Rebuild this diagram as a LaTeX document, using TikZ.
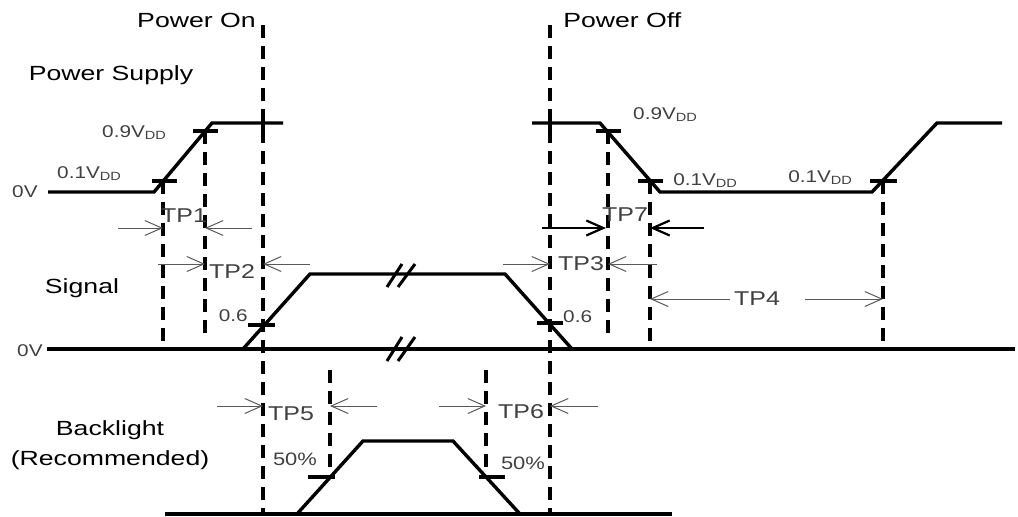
\documentclass[tikz,border=0pt]{standalone}
\usepackage{fontspec}
\setmainfont{Liberation Sans}
\usetikzlibrary{arrows.meta}
\newcommand{\vdd}[1]{#1V\textsubscript{DD}}

\begin{document}
\begin{tikzpicture}[x=1pt,y=-1pt,
	wave/.style={line width=3.4pt, line join=miter},
	guide/.style={line width=3.4pt, dash pattern=on 13pt off 8pt},
	tpgap/.style={line width=1pt, draw=black!65, -{Straight Barb[length=17pt,width=15pt]}},
	tpgapbold/.style={line width=2.2pt, draw=black, -{Straight Barb[length=17pt,width=15pt]}},
	title/.style={font=\fontsize{20.5}{24}\selectfont, xscale=1.3, inner sep=0pt},
	tplabel/.style={text=black!75, font=\fontsize{20}{23}\selectfont, xscale=1.25, inner sep=0pt},
	volt/.style={text=black!75, font=\fontsize{17}{20}\selectfont, xscale=1.22, inner sep=0pt}]
	\useasboundingbox (0,0) rectangle (1018,517);
	% titles
	\node[title, anchor=east] (pon) at (256,20) {Power On};
	\node[title, anchor=west] (poff) at (563,20) {Power Off};
	\node[title] (supply) at (111,75) {Power Supply};
	\node[title] (signal) at (82,288) {Signal};
	\node[title] (bl) at (110,430) {Backlight};
	\node[title] (blrec) at (110,460) {(Recommended)};
	% power supply
	\draw[wave] (48,192) -- (154,192) -- (212,123) -- (283,123);
	\draw[wave] (532,123) -- (600,123) -- (660,192) -- (872,192) -- (937,123) -- (1002,123);
	\draw[wave] (152,181) -- (177,181);
	\draw[wave] (193,131) -- (218,131);
	\draw[wave] (263,110) -- (263,136);
	\draw[wave] (550,110) -- (550,136);
	\draw[wave] (596,131) -- (621,131);
	\draw[wave] (638,181) -- (663,181);
	\draw[wave] (870,181) -- (897,181);
	\node[volt, anchor=west] (zeroa) at (12,192) {0V};
	\node[volt, anchor=base west] (lowa) at (57,178) {\vdd{0.1}};
	\node[volt, anchor=base west] (higha) at (102,137) {\vdd{0.9}};
	\node[volt, anchor=base west] (highb) at (633,119) {\vdd{0.9}};
	\node[volt, anchor=base west] (lowb) at (673,185) {\vdd{0.1}};
	\node[volt, anchor=base west] (lowc) at (788,182) {\vdd{0.1}};
	% signal
	\draw[wave] (47,349) -- (1015,349);
	\draw[wave] (243,349) -- (310,274) -- (505,274) -- (572,349);
	\draw[line width=3pt] (387,287) -- (402,264) (398,287) -- (415,264);
	\draw[line width=3pt] (387,361) -- (402,337) (398,361) -- (415,337);
	\draw[wave] (248,325) -- (275,325);
	\draw[wave] (537,323) -- (563,323);
	\node[volt, anchor=west] (zerob) at (17,351) {0V};
	\node[volt, anchor=east] (sixa) at (248,316) {0.6};
	\node[volt, anchor=west] (sixb) at (563,317) {0.6};
	% backlight
	\draw[wave] (165,514) -- (672,514);
	\draw[wave] (297,514) -- (363,441) -- (453,441) -- (520,514);
	\draw[wave] (308,477) -- (335,477);
	\draw[wave] (479,477) -- (505,477);
	\node[volt, font=\fontsize{18}{21}\selectfont] (pcta) at (295,459) {50\%};
	\node[volt, font=\fontsize{18}{21}\selectfont] (pctb) at (523,463) {50\%};
	% dashed guides
	\draw[guide] (263,25) -- (263,514);
	\draw[guide] (550,25) -- (550,514);
	\draw[guide] (163,181) -- (163,349);
	\draw[guide] (205,131) -- (205,333);
	\draw[guide] (608,131) -- (608,333);
	\draw[guide] (650,181) -- (650,349);
	\draw[guide] (883,181) -- (883,349);
	\draw[guide] (330,370) -- (330,477);
	\draw[guide] (486,370) -- (486,477);
	% timing gaps
	\draw[tpgap] (118,228) -- (163,228);
	\draw[tpgap] (252,228) -- (205,228);
	\node[tplabel] (tp1) at (184,216) {TP1};
	\draw[tpgap] (158,264) -- (205,264);
	\draw[tpgap] (310,264) -- (263,264);
	\node[tplabel] (tp2) at (232,272) {TP2};
	\draw[tpgap] (503,264) -- (550,264);
	\draw[tpgap] (657,264) -- (608,264);
	\node[tplabel] (tp3) at (581,264) {TP3};
	\draw[tpgapbold] (542,228) -- (606,228);
	\draw[tpgapbold] (704,228) -- (650,228);
	\node[tplabel] (tp7) at (625,215) {TP7};
	\draw[tpgap] (730,299) -- (650,299);
	\draw[tpgap] (805,299) -- (883,299);
	\node[tplabel] (tp4) at (757,299) {TP4};
	\draw[tpgap] (217,406) -- (263,406);
	\draw[tpgap] (377,406) -- (330,406);
	\node[tplabel] (tp5) at (291,414) {TP5};
	\draw[tpgap] (439,406) -- (486,406);
	\draw[tpgap] (598,406) -- (550,406);
	\node[tplabel] (tp6) at (521,412) {TP6};
\end{tikzpicture}
\end{document}
